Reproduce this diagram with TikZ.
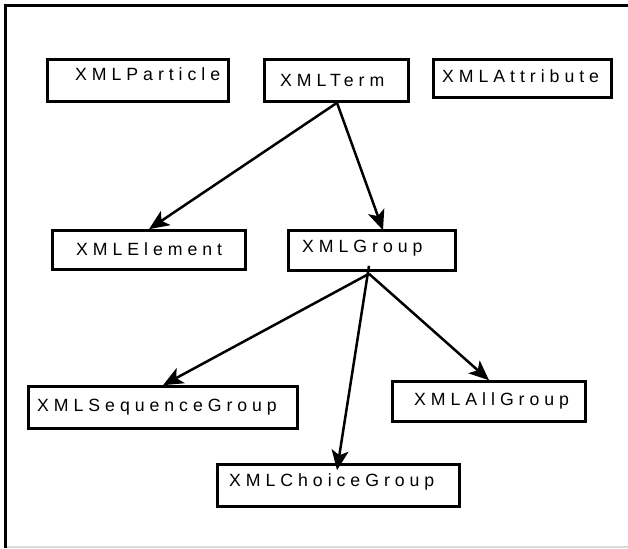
\documentclass[tikz,border=0pt]{standalone}
\usepackage{fontspec}
\setmainfont{Liberation Sans}
\newfontfamily\spacedsans[LetterSpace=28]{Liberation Sans}
\usetikzlibrary{arrows.meta,calc}
\begin{document}
\begin{tikzpicture}[x=1pt,y=-1pt,
  classbox/.style={draw, line width=2.6pt, inner sep=0pt},
  classname/.style={anchor=base west, inner sep=0pt,
    font=\spacedsans\fontsize{17.7}{20}\selectfont},
  inherit/.style={draw, line width=2.5pt,
    -{Stealth[length=20pt, width=17pt, inset=5pt]}}]
\useasboundingbox (0,0) rectangle (628,548);

% outer frame
\draw[line width=3pt] (5.5,548) -- (5.5,5.5) -- (628,5.5);
\draw[black!15, line width=1.2pt] (7,547) -- (628,547);

% class boxes
\node[classbox, minimum width=181pt, minimum height=42pt] (particle)  at (138,80.5) {};
\node[classbox, minimum width=144pt, minimum height=42pt] (term)      at (336.5,80.5) {};
\node[classbox, minimum width=178pt, minimum height=38pt] (attribute) at (522.5,78.5) {};
\node[classbox, minimum width=193pt, minimum height=39pt] (element)   at (149,250) {};
\node[classbox, minimum width=167pt, minimum height=40pt] (group)     at (372,250.5) {};
\node[classbox, minimum width=269pt, minimum height=42pt] (sequence)  at (163,407.5) {};
\node[classbox, minimum width=193pt, minimum height=40pt] (allgroup)  at (489,401.5) {};
\node[classbox, minimum width=242pt, minimum height=42pt] (choice)    at (338.5,485.5) {};

% class names
\node[classname] (particleT)  at (75,81)   {XMLParticle};
\node[classname] (termT)      at (280,87)  {XMLTerm};
\node[classname] (attributeT) at (442,83)  {XMLAttribute};
\node[classname] (elementT)   at (76,255)  {XMLElement};
\node[classname] (groupT)     at (302,252) {XMLGroup};
\node[classname] (sequenceT)  at (37,411)  {XMLSequenceGroup};
\node[classname] (allgroupT)  at (414,405) {XMLAllGroup};
\node[classname] (choiceT)    at (229,486) {XMLChoiceGroup};

% connector start points
\coordinate (termfoot)   at ([xshift=0.5pt]term.south);
\coordinate (groupfoot)  at ([xshift=-3pt, yshift=-2pt]group.south);
\coordinate (groupinner) at ([xshift=-3pt, yshift=6pt]group.south);

% inheritance arrows
\draw[inherit] (termfoot) -- (element.north);
\draw[inherit] (termfoot) -- ([xshift=11pt, yshift=-1pt]group.north);
\draw[inherit] (groupfoot) -- (sequence.north);
\draw[inherit] (groupinner) -- ([xshift=-1.5pt, yshift=-7pt]choice.north);
\draw[inherit] (groupfoot) -- (allgroup.north);
\end{tikzpicture}
\end{document}
